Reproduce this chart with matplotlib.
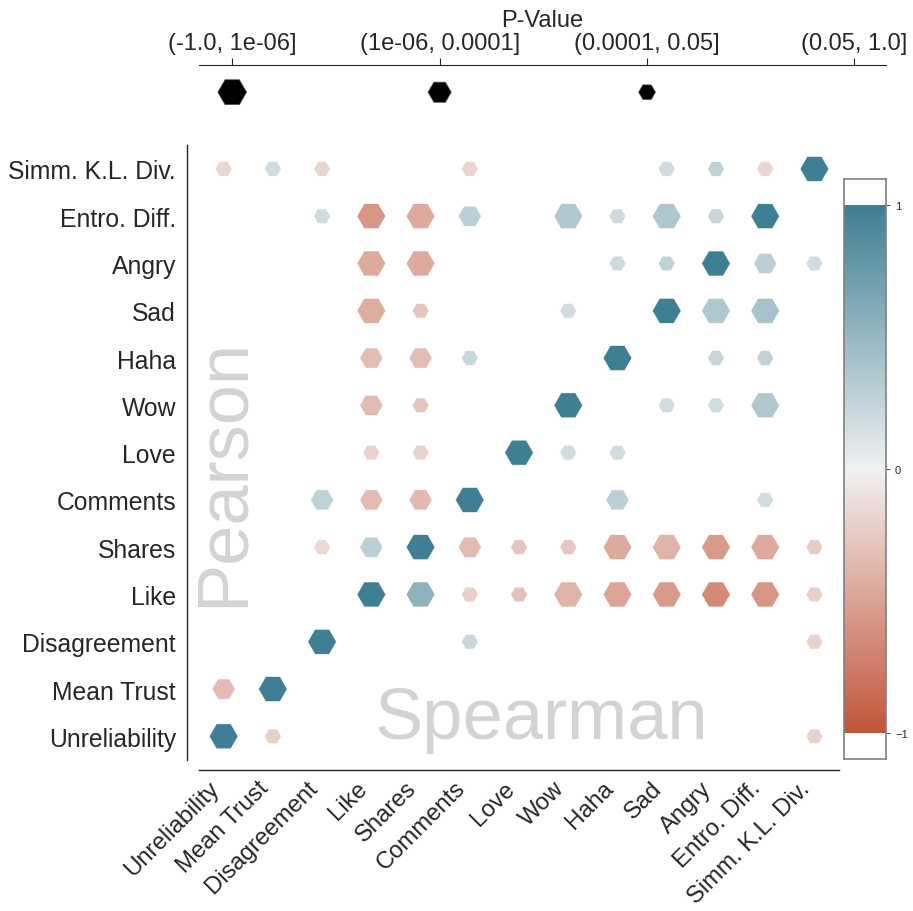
import numpy as np
import matplotlib
matplotlib.use("Agg")
import matplotlib.pyplot as plt
import seaborn as sns

plt.rcParams['font.family'] = ['Liberation Sans', 'DejaVu Sans']

# Variables (same order on both axes, bottom->top / left->right)
labels = ["Unreliability", "Mean Trust", "Disagreement", "Like", "Shares", "Comments",
          "Love", "Wow", "Haha", "Sad", "Angry", "Entro. Diff.", "Simm. K.L. Div."]

# p-value bins (0 = smallest p-value, largest marker)
p_bins = ["(-1.0, 1e-06]", "(1e-06, 0.0001]", "(0.0001, 0.05]", "(0.05, 1.0]"]

n = np.nan
# correlation per row (row = y label), NaN where not significant
corr = [
    [1.0, -0.22, n, n, n, n, n, n, n, n, n, n, -0.2],                          # Unreliability
    [-0.34, 1.0, n, n, n, n, n, n, n, n, n, n, n],                             # Mean Trust
    [n, n, 1.0, n, n, 0.22, n, n, n, n, n, n, -0.2],                           # Disagreement
    [n, n, n, 1.0, 0.55, -0.22, -0.3, -0.4, -0.5, -0.56, -0.66, -0.58, -0.22], # Like
    [n, n, -0.16, 0.3, 1.0, -0.34, -0.28, -0.28, -0.46, -0.4, -0.56, -0.46, -0.25],  # Shares
    [n, n, 0.28, -0.34, -0.36, 1.0, n, n, 0.3, n, n, 0.18, n],                 # Comments
    [n, n, n, -0.2, -0.2, n, 1.0, 0.18, 0.18, n, n, n, n],                     # Love
    [n, n, n, -0.34, -0.28, n, n, 1.0, n, 0.18, 0.18, 0.36, n],                # Wow
    [n, n, n, -0.33, -0.33, 0.22, n, n, 1.0, n, 0.24, 0.28, n],                # Haha
    [n, n, n, -0.44, -0.28, n, n, 0.18, n, 1.0, 0.36, 0.42, n],                # Sad
    [n, n, n, -0.46, -0.46, n, n, n, 0.2, 0.28, 1.0, 0.3, 0.18],               # Angry
    [n, n, 0.18, -0.58, -0.46, 0.3, n, 0.36, 0.2, 0.38, 0.24, 1.0, n],         # Entro. Diff.
    [-0.18, 0.18, -0.18, n, n, -0.18, n, n, n, 0.18, 0.28, -0.18, 1.0],        # Simm. K.L. Div.
]

# p-value bin index per cell (-1 = not shown)
pval = [
    [0, 2, -1, -1, -1, -1, -1, -1, -1, -1, -1, -1, 2],
    [1, 0, -1, -1, -1, -1, -1, -1, -1, -1, -1, -1, -1],
    [-1, -1, 0, -1, -1, 2, -1, -1, -1, -1, -1, -1, 2],
    [-1, -1, -1, 0, 0, 2, 2, 0, 0, 0, 0, 0, 2],
    [-1, -1, 2, 1, 0, 1, 2, 2, 0, 0, 0, 0, 2],
    [-1, -1, 1, 1, 1, 0, -1, -1, 1, -1, -1, 2, -1],
    [-1, -1, -1, 2, 2, -1, 0, 2, 2, -1, -1, -1, -1],
    [-1, -1, -1, 1, 2, -1, -1, 0, -1, 2, 2, 0, -1],
    [-1, -1, -1, 1, 1, 2, -1, -1, 0, -1, 2, 2, -1],
    [-1, -1, -1, 0, 2, -1, -1, 2, -1, 0, 0, 0, -1],
    [-1, -1, -1, 0, 0, -1, -1, -1, 2, 2, 0, 1, 2],
    [-1, -1, 2, 0, 0, 1, -1, 0, 2, 0, 2, 0, -1],
    [2, 2, 2, -1, -1, 2, -1, -1, -1, 2, 2, 2, 0],
]

marker_sizes = [430, 280, 148]

cmap = sns.diverging_palette(20, 220, as_cmap=True)

fig = plt.figure(figsize=(9.13, 9.12), dpi=100)

# main hexagon matrix
ax = fig.add_axes([0.218, 0.1656, 0.701, 0.674])
for side in ['top', 'right']:
    ax.spines[side].set_visible(False)
ax.spines['left'].set_position(('outward', 8.6))
ax.spines['bottom'].set_position(('outward', 7.2))
for side in ['left', 'bottom']:
    ax.spines[side].set_color('#262626')
    ax.spines[side].set_linewidth(1.0)

xs, ys, cs, ss = [], [], [], []
for i in range(len(labels)):
    for j in range(len(labels)):
        if pval[i][j] >= 0:
            xs.append(j)
            ys.append(i)
            cs.append(corr[i][j])
            ss.append(marker_sizes[pval[i][j]])
ax.scatter(xs, ys, s=ss, c=cs, cmap=cmap, vmin=-1, vmax=1, marker='H',
           edgecolors='white', linewidths=0.4)
ax.set_xlim(-0.5, len(labels) - 0.5)
ax.set_ylim(-0.5, len(labels) - 0.5)
ax.set_xticks(range(len(labels)))
ax.set_yticks(range(len(labels)))
ax.set_xticklabels(labels, rotation=45, ha='right', fontsize=17.2)
ax.set_yticklabels(labels, fontsize=17.8)
ax.tick_params(length=0, pad=8, colors='#262626')
ax.tick_params(axis='x', pad=5)

ax.text(0.0, 5.6, "Pearson", rotation=90, fontsize=52, color='#d3d3d3',
        ha='center', va='center')
ax.text(6.45, 0.35, "Spearman", fontsize=52, color='#d3d3d3', ha='center', va='center')

# p-value size legend on top
lax = fig.add_axes([0.218, 0.868, 0.752, 0.0596])
lax.scatter(range(3), [0.5] * 3, s=marker_sizes, c='black', marker='H',
            edgecolors='#555555', linewidths=0.5)
lax.set_xlim(-0.16, 3.15)
lax.set_ylim(0, 1)
lax.xaxis.tick_top()
lax.xaxis.set_label_position('top')
lax.set_xticks(range(len(p_bins)))
lax.set_xticklabels(p_bins, fontsize=17)
lax.set_xlabel("P-Value", fontsize=17, labelpad=4, color='#262626')
lax.set_yticks([])
lax.tick_params(axis='x', length=5, pad=3, colors='#262626')
for side in ['bottom', 'left', 'right']:
    lax.spines[side].set_visible(False)
lax.spines['top'].set_color('#262626')

# colour bar
cax = fig.add_axes([0.9244, 0.1667, 0.046, 0.636])
grad = np.linspace(-1, 1, 256)[:, None]
cax.imshow(grad, cmap=cmap, origin='lower', extent=[0, 1, -1, 1], aspect='auto')
cax.set_xlim(0, 1)
cax.set_ylim(-1.1, 1.1)
cax.set_xticks([])
cax.yaxis.tick_right()
cax.set_yticks([-1, 0, 1])
cax.tick_params(axis='y', labelsize=8, length=3, width=0.6, colors='#262626')
for sp in cax.spines.values():
    sp.set_color('#808080')
    sp.set_linewidth(1.2)

fig.savefig("out.png", dpi=100)
